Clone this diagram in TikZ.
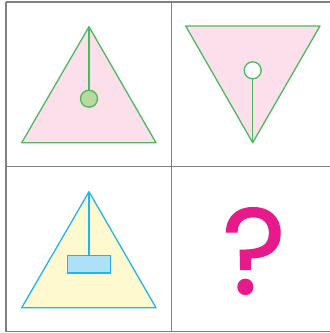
\documentclass[tikz,border=0pt]{standalone}
\usepackage{fontspec}
\newfontfamily\qfont[FakeBold=1]{Poppins}
\definecolor{LineGreen}{HTML}{4DB85E}
\definecolor{FillPink}{HTML}{FBDFEA}
\definecolor{BallGreen}{HTML}{B7DB9E}
\definecolor{LineBlue}{HTML}{22B5E6}
\definecolor{FillYellow}{HTML}{FFF9CF}
\definecolor{BoxBlue}{HTML}{ADE1F9}
\definecolor{QMagenta}{HTML}{E8198B}
\definecolor{GridGray}{HTML}{808080}
\usetikzlibrary{positioning}

\begin{document}
\begin{tikzpicture}[x=1pt, y=-1pt, every node/.style={inner sep=0pt}]
      \useasboundingbox (0,0) rectangle (330,333);
      % Grille
      \draw[GridGray, line width=1.6pt] (6,2) -- (330,2) (6,166.5) -- (330,166.5) (6,331.5) -- (330,331.5)
        (6,2) -- (6,331.5) (171.5,2) -- (171.5,331.5);

      % Case 1 : triangle, boule verte
      \coordinate (apex1) at (89,26.7);
      \draw[LineGreen, fill=FillPink, line width=1.3pt, line join=round] (apex1) -- (156,142.7) -- (21.7,142.7) -- cycle;
      \node[circle, draw=LineGreen, fill=BallGreen, line width=1.3pt, minimum size=17pt] (ball1) at (89,98.7) {};
      \draw[LineGreen, line width=1.3pt] (apex1) -- (ball1);

      % Case 2 : triangle renverse, boule blanche
      \coordinate (apex2) at (252.7,142.7);
      \draw[LineGreen, fill=FillPink, line width=1.3pt, line join=round] (185.7,26) -- (320,26) -- (apex2) -- cycle;
      \node[circle, draw=LineGreen, fill=white, line width=1.3pt, minimum size=17pt] (ball2) at (252.7,70.3) {};
      \draw[LineGreen, line width=1.3pt] (apex2) -- (ball2);

      % Case 3 : triangle, rectangle bleu
      \coordinate (apex3) at (89,191.7);
      \draw[LineBlue, fill=FillYellow, line width=1.3pt, line join=round] (apex3) -- (156,307.7) -- (21.7,307.7) -- cycle;
      \node[rectangle, draw=LineBlue, fill=BoxBlue, line width=1.3pt, minimum width=43pt, minimum height=17.5pt] (box3) at (89,264.2) {};
      \draw[LineBlue, line width=1.3pt] (apex3) -- (box3);

      % Case 4 : ?
      \node[text=QMagenta, font=\qfont\fontsize{122}{122}\selectfont] (qmark) at (254,251) {?};
    \end{tikzpicture}
\end{document}
